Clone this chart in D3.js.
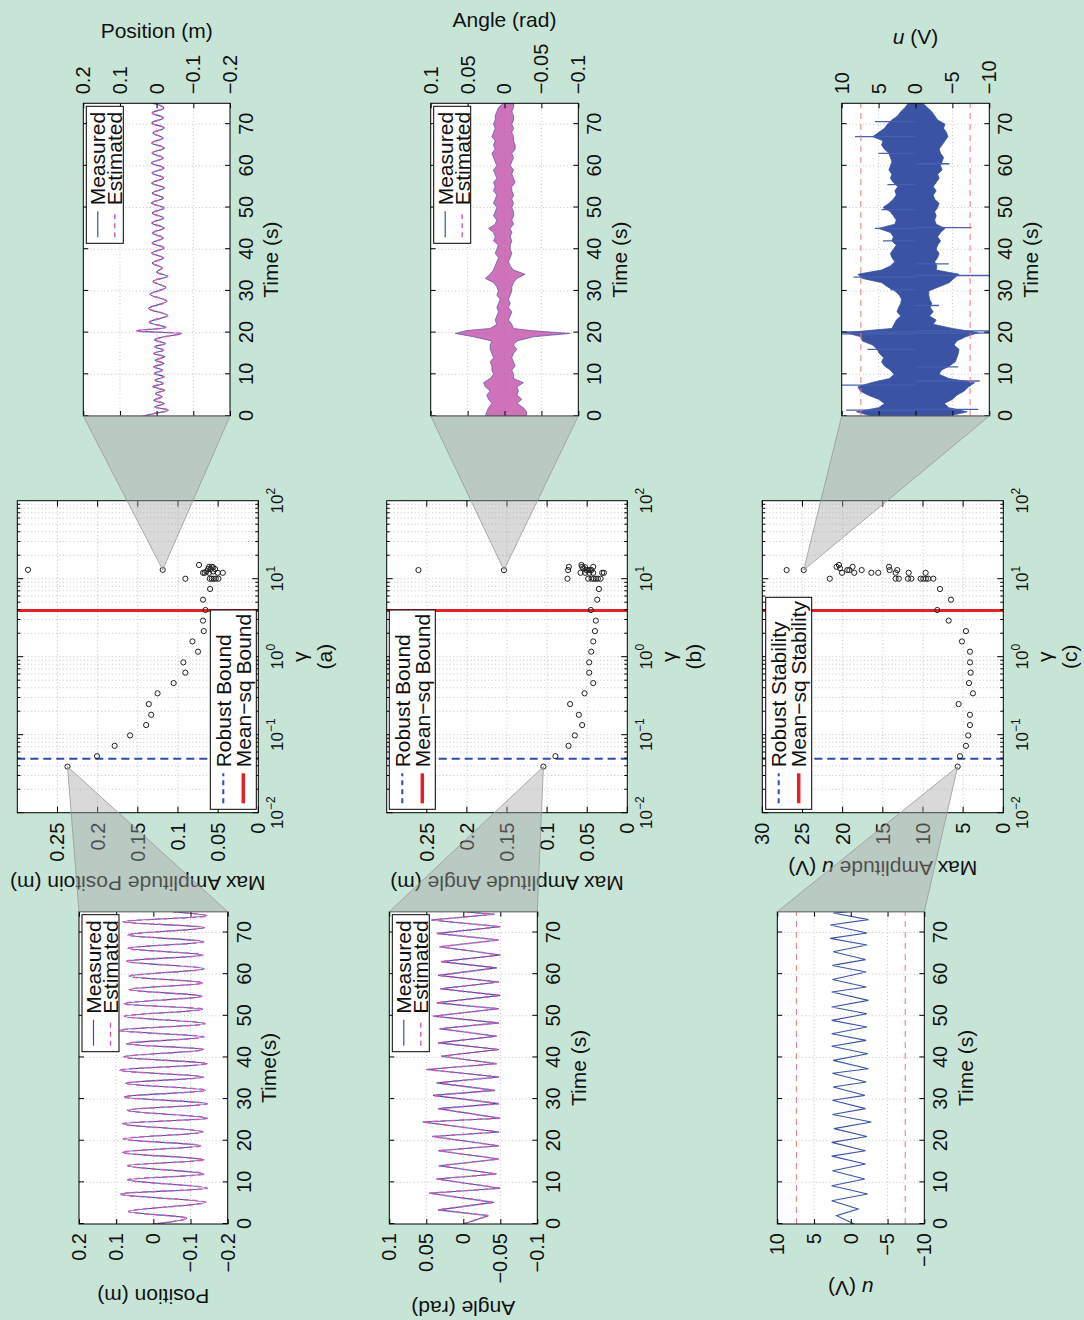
<!DOCTYPE html>
<html><head><meta charset="utf-8">
<script src="https://cdn.jsdelivr.net/npm/d3@7"></script>
<style>
body{margin:0;background:#c7e5d6;}
svg{display:block;}
text{font-family:"Liberation Sans",Arial,Helvetica,sans-serif;fill:#111;}
</style>
</head><body>
<svg id="c" width="1084" height="1320"></svg>
<script>
// ---------------- DATA ----------------
const timeTicks = [0,10,20,30,40,50,60,70];
const posTicks = [-0.2,-0.1,0,0.1,0.2];
const angTicks = [-0.1,-0.05,0,0.05,0.1];
const uTicks = [-10,-5,0,5,10];
const ampTicks = [0,0.05,0.1,0.15,0.2,0.25];
const ampTicksU = [0,5,10,15,20,25,30];
const gammaDecades = [-2,-1,0,1,2];
const robustGamma = 0.049, meanSqGamma = 3.9;
const uLimit = 7.4;

// (a) max amplitude position vs gamma
const gammaA = [0.039,0.053,0.072,0.098,0.133,0.18,0.247,0.339,0.459,0.624,0.846,1.16,1.57,2.13,2.9,3.97,5.38,7.38,
  10,10,10,10,10,10, 11.9,11.9,11.9,11.9,11.9,12.4,12.4,13.0,13.0,13.3,13.3,13.3,14.0,14.2,14.2,15.0];
const ampA = [0.2375,0.2008,0.1788,0.1596,0.1396,0.1333,0.1363,0.1254,0.1054,0.0908,0.0933,0.075,0.082,0.0679,0.0688,0.0658,0.0688,0.060,
  0.0908,0.0604,0.0579,0.0554,0.0529,0.0496, 0.0688,0.0667,0.0613,0.0504,0.0442,0.0646,0.0563,0.2867,0.119,0.0625,0.0592,0.0538,0.0563,0.0613,0.0579,0.0738];
// (b) max amplitude angle vs gamma
const gammaB = [0.039,0.053,0.072,0.098,0.133,0.18,0.247,0.339,0.459,0.624,0.846,1.16,1.57,2.13,2.9,3.97,5.38,7.38,
  10,10,10,10,10,10,10, 11.9,11.9,11.9,11.9,11.9,11.9, 12.9,12.9,12.9,12.9,12.9,12.9,12.9, 13.6,14.0,14.2,14.2,14.2,15.0];
const ampB = [0.1046,0.0896,0.0733,0.0654,0.0563,0.0604,0.0713,0.0533,0.0425,0.0475,0.0475,0.045,0.0425,0.0404,0.0392,0.0454,0.0375,0.0354,
  0.0746,0.0488,0.0446,0.0417,0.0392,0.0367,0.0333, 0.0583,0.0525,0.0475,0.0425,0.0313,0.0292, 0.2604,0.1538,0.0738,0.0508,0.0488,0.0467,0.0446, 0.055,0.0525,0.0729,0.0563,0.0425,0.0571];
// (c) max amplitude u vs gamma
const gammaC = [0.039,0.053,0.072,0.098,0.133,0.18,0.247,0.339,0.459,0.624,0.846,1.16,1.57,2.13,2.9,3.97,5.38,7.38,
  10,10,10,10,10,10,10,10,10,10, 11.9,11.9,11.9,11.9,11.9,11.9,11.9, 12.9,12.9,12.9,12.9,12.9,12.9,12.9, 13.6,14.2,14.2,14.2,15.0];
const ampC = [5.68,5.39,4.65,4.36,4.15,4.15,5.56,3.78,4.27,4.07,4.15,4.15,5.15,4.65,6.8,8.22,6.51,7.88,
  21.6,13.4,13.0,11.87,11.45,10.29,9.96,9.63,9.34,8.71, 20.08,18.55,16.43,15.56,13.4,11.78,9.67, 26.97,24.85,19.42,19.17,17.63,14.15,13.2, 20.33,20.75,18.76,14.23,20.46];
const calloutIdx = {A:[0,32], B:[0,32], C:[0,36]};

// left (unstable gain) time series: position, angle, u  (extrema)
const posLeftT = [0,1.4,3.0,5.2,7.2,8.6,10.6,12.0,14.0,15.4,17.2,18.8,20.4,22.1,24.1,25.4,27.3,28.9,30.5,32.1,33.8,35.3,36.9,38.5,40.1,41.9,43.3,44.9,46.5,48.1,49.9,51.6,52.9,54.7,56.3,57.9,59.5,61.3,63.1,64.6,66.2,67.8,69.4,71.2,72.6,74.0,75];
const posLeftV = [0,-0.090,0.067,-0.141,0.088,-0.145,0.069,-0.136,0.069,-0.136,0.083,-0.127,0.081,-0.133,0.083,-0.145,0.070,-0.145,0.079,-0.141,0.075,-0.135,0.091,-0.145,0.080,-0.135,0.072,-0.136,0.091,-0.139,0.078,-0.133,0.079,-0.130,0.065,-0.133,0.065,-0.136,0.072,-0.133,0.069,-0.135,0.069,-0.137,0.081,-0.145,-0.05];
const angLeftT = [0,2.0,3.4,5.2,7.4,8.6,10.8,12.0,14.0,15.6,17.6,18.8,21.0,22.1,24.5,25.4,27.7,28.9,30.9,32.1,33.9,35.3,37.1,38.5,40.3,41.9,43.5,45.1,46.9,48.3,49.9,51.7,53.1,54.9,56.5,58.1,59.7,61.5,63.0,64.6,66.6,68.2,69.8,71.4,73.0,74.4,75];
const angLeftV = [0,-0.034,0.034,-0.041,0.046,-0.05,0.036,-0.045,0.033,-0.048,0.034,-0.048,0.042,-0.048,0.055,-0.05,0.034,-0.048,0.041,-0.043,0.036,-0.048,0.05,-0.045,0.03,-0.048,0.034,-0.045,0.032,-0.048,0.041,-0.048,0.036,-0.05,0.031,-0.048,0.034,-0.045,0.03,-0.05,0.032,-0.048,0.036,-0.05,0.043,-0.042,0];
const uLeftT = [0,2.0,3.6,5.6,7.2,9.2,10.8,12.8,14.4,16.3,17.6,19.6,21.0,22.9,24.5,26.3,27.7,29.7,30.9,32.9,34.1,36.2,37.3,39.3,40.9,42.7,44.1,45.7,47.3,48.9,50.5,52.1,53.7,55.7,56.9,58.7,60.5,62.1,63.5,65.4,67.0,68.6,69.9,71.8,73.1,74.7,75];
const uLeftV = [-0.5,1.95,-1.0,2.6,-2.3,2.6,-1.9,2.5,-2.0,2.6,-2.0,2.6,-2.2,2.3,-2.8,2.5,-2.0,2.5,-1.9,2.4,-2.1,2.5,-2.4,2.4,-2.3,2.6,-2.1,2.6,-2.2,2.6,-2.2,2.6,-2.4,2.6,-2.1,2.5,-2.1,2.5,-2.0,2.4,-2.2,2.8,-2.2,2.8,-2.4,2.4,0];

// right (stable gain) time series
const posRightT = [0,0.7,1.4,2.2,3.0,3.8,4.6,5.4,6.2,7.0,7.8,8.6,9.4,10.2,11.0,11.8,12.6,13.4,14.2,15.0,15.8,16.6,17.4,18.2,19.0,19.8,20.4,21.2,22.5,24.1,25.8,27.5,29.2,30.8,32.3,33.5,34.5,35.5,36.7,37.9,39.1,40.3,41.5,42.7,43.9,45.1,46.3,47.5,48.7,49.9,51.1,52.3,53.5,54.7,55.9,57.1,58.3,59.5,60.7,61.9,63.1,64.3,65.5,66.7,67.9,69.1,70.3,71.5,72.7,73.9,75];
const posRightV = [0.036,0.0,-0.032,0.005,-0.02,0.008,-0.015,0.003,-0.022,0.01,-0.018,0.004,-0.02,0.006,-0.016,0.008,-0.02,0.004,-0.022,0.008,-0.018,0.005,-0.024,0.006,-0.02,-0.068,0.055,-0.025,0.02,-0.03,0.022,-0.028,0.018,-0.025,0.01,-0.03,0.0,-0.015,0.012,-0.018,0.013,-0.02,0.012,-0.018,0.011,-0.02,0.013,-0.019,0.012,-0.02,0.014,-0.018,0.012,-0.02,0.013,-0.019,0.012,-0.02,0.014,-0.018,0.012,-0.021,0.013,-0.017,0.01,-0.02,0.013,-0.018,0.012,-0.02,0.01];
const angRightT  = [0,1,2,3,4,5,6,7,8,9,10,11,12,13,14,15,16,17,18,19,19.8,20.5,21,22,23,24,25,26,27,28,29,30,31,32,33,34,35,36,37,38,39,40,41,42,43,44,45,46,47,48,49,50,51,52,53,54,55,56,57,58,59,60,61,62,63,64,65,66,67,68,69,70,71,72,73,74,75];
const angRightHi = [0.026,0.024,0.0216,0.0171,0.0216,0.024,0.0194,0.026,0.0284,0.0194,0.0149,0.0171,0.0171,0.0194,0.0149,0.0171,0.0194,0.0194,0.0171,0.042,0.0667,0.051,0.0194,0.0104,0.0126,0.0104,0.0081,0.0104,0.0081,0.0059,0.0104,0.0081,0.0104,0.0149,0.026,0.0194,0.0149,0.0126,0.0104,0.0081,0.0126,0.0104,0.0081,0.0149,0.0126,0.0149,0.0216,0.0126,0.0104,0.0149,0.0126,0.0104,0.0149,0.0126,0.0104,0.0149,0.0126,0.0149,0.0104,0.0126,0.0149,0.0104,0.0126,0.0149,0.0171,0.0126,0.0149,0.0126,0.0171,0.0149,0.0126,0.0149,0.0126,0.0126,0.0104,0.0081,0.0014];
const angRightLo = [-0.03,-0.03,-0.0257,-0.0167,-0.0234,-0.0167,-0.0189,-0.0167,-0.0257,-0.0122,-0.0122,-0.0099,-0.0144,-0.0122,-0.0099,-0.0122,-0.0167,-0.0122,-0.0167,-0.0392,-0.0887,-0.0347,-0.0122,-0.0099,-0.0054,-0.0077,-0.0099,-0.0054,-0.0077,-0.0054,-0.0077,-0.0099,-0.0099,-0.0122,-0.0167,-0.0279,-0.0122,-0.0077,-0.0054,-0.0077,-0.0099,-0.0077,-0.0077,-0.0099,-0.0077,-0.0099,-0.0077,-0.0122,-0.0099,-0.0122,-0.0122,-0.0099,-0.0122,-0.0099,-0.0122,-0.0099,-0.0099,-0.0144,-0.0122,-0.0099,-0.0122,-0.0077,-0.0099,-0.0122,-0.0099,-0.0144,-0.0144,-0.0122,-0.0122,-0.0099,-0.0122,-0.0099,-0.0122,-0.0122,-0.0099,-0.0122,-0.0122];
const uRightT  = [0,1,2,3,4,5,6,7,8,9,10,11,12,13,14,15,16,17,18,19,20,21,22,23,24,25,26,27,28,29,30,31,32,33,34,35,36,37,38,39,40,41,42,43,44,45,46,47,48,49,50,51,52,53,54,55,56,57,58,59,60,61,62,63,64,65,66,67,68,69,70,71,72,73,74,75];
const uRightHi = [6.0,8.0,5.0,4.2,5.0,6.4,7.5,7.8,6.0,3.5,2.9,3.4,4.2,4.6,4.3,4.9,5.2,5.8,7.2,7.4,9.5,3.2,2.9,2.6,2.0,2.5,2.3,2.0,1.9,2.2,2.8,3.8,4.6,7.2,7.8,4.6,3.4,2.8,3.2,3.4,3.0,2.6,3.2,3.0,3.4,5.0,2.8,2.6,3.0,3.4,4.4,3.6,3.0,2.6,2.8,2.4,3.0,3.4,3.2,3.6,3.4,3.2,3.4,3.6,4.2,4.6,4.4,5.8,5.0,4.2,3.8,3.2,2.4,2.0,1.4,1.0];
const uRightLo = [-4.5,-7.0,-4.5,-3.9,-5.0,-5.6,-6.6,-7.2,-8.0,-4.5,-3.2,-3.5,-4.6,-5.4,-5.6,-5.8,-5.9,-5.2,-5.6,-6.8,-8.5,-5.0,-2.4,-2.8,-1.9,-2.4,-2.0,-2.2,-1.9,-1.8,-1.8,-3.2,-4.6,-5.2,-5.9,-2.8,-2.9,-2.6,-3.0,-3.2,-2.8,-3.0,-3.4,-3.0,-3.4,-4.0,-2.8,-2.6,-2.8,-2.6,-3.0,-3.2,-2.6,-2.4,-2.8,-2.4,-2.8,-3.2,-3.0,-3.6,-3.4,-3.6,-3.8,-3.4,-3.2,-3.6,-4.0,-4.4,-4.2,-3.8,-4.0,-3.0,-2.6,-2.2,-1.6,-1.0];
const uSpikeT = [1.4,1.6,7.4,8.4,11.8,16.0,19.7,19.9,20.2,20.4,26.5,30.3,33.3,33.7,36.5,42.0,45.0,45.2,49.5,55.5,60.5,63.0,67.0,70.6];
const uSpikeV = [9.4,-8.5,10,-8.7,-5.8,6.5,10,-10,10,-10,-3.2,3.4,8.4,-10,-4.5,4.4,5.5,-7.6,4.6,3.8,-4.6,5.0,8.2,5.5];

// ---------------- DRAWING ----------------
const fmt = d => (d < 0 ? '\u2212' : '') + String(+Math.abs(d).toFixed(3));
const zip = (a, b, c) => a.map((t, i) => c ? [t, b[i], c[i]] : [t, b[i]]);
const BLUE = '#3a55a6', PINK = '#d35bb5', RED = '#e32228';

const svg = d3.select('#c');
svg.append('rect').attr('width', 1084).attr('height', 1320).attr('fill', '#c7e5d6');
// whole figure is a landscape page rotated a quarter turn
const root = svg.append('g').attr('transform', 'translate(0,1320) rotate(-90)');
let clipN = 0;

function styleAxis(sel, fs) {
  sel.select('.domain').remove();
  sel.selectAll('.tick line').attr('stroke', '#000').attr('stroke-width', 1);
  sel.selectAll('.tick text').attr('font-size', fs).attr('fill', '#111')
     .attr('font-family', '"Liberation Sans",Arial,sans-serif');
}

function grid(g, xs, ys, w, h, xv, yv) {
  g.append('g').selectAll('line').data(xv).join('line')
    .attr('x1', d => xs(d)).attr('x2', d => xs(d)).attr('y1', 0).attr('y2', h)
    .attr('stroke', '#b5b5b5').attr('stroke-width', 0.8).attr('stroke-dasharray', '1,2.5');
  g.append('g').selectAll('line').data(yv).join('line')
    .attr('y1', d => ys(d)).attr('y2', d => ys(d)).attr('x1', 0).attr('x2', w)
    .attr('stroke', '#b5b5b5').attr('stroke-width', 0.8).attr('stroke-dasharray', '1,2.5');
}

function legend(g, x, y, w, h, items, fs, sampleLen) {
  const lg = g.append('g').attr('transform', `translate(${x},${y})`);
  lg.append('rect').attr('width', w).attr('height', h).attr('fill', '#fff').attr('stroke', '#000').attr('stroke-width', 1);
  items.forEach(it => {
    lg.append('line').attr('x1', 6).attr('x2', 6 + sampleLen).attr('y1', it.y).attr('y2', it.y)
      .attr('stroke', it.color).attr('stroke-width', it.sw).attr('stroke-dasharray', it.dash || null);
    lg.append('text').attr('x', 12 + sampleLen).attr('y', it.y).attr('dy', '0.35em')
      .attr('font-size', fs).text(it.label);
  });
}

function timePanel(o) {
  const g = root.append('g').attr('transform', `translate(${o.x},${o.y})`);
  const xs = d3.scaleLinear().domain([0, 75]).range([0, o.w]);
  const ys = d3.scaleLinear().domain(o.yDomain).range([o.h, 0]);
  g.append('rect').attr('width', o.w).attr('height', o.h).attr('fill', '#fff');
  grid(g, xs, ys, o.w, o.h, timeTicks.slice(1), o.yTicks.slice(1, -1));
  const id = 'clip' + (clipN++);
  g.append('clipPath').attr('id', id).append('rect').attr('width', o.w).attr('height', o.h);
  const p = g.append('g').attr('clip-path', `url(#${id})`);
  o.draw(p, xs, ys);
  const b = g.append('g').attr('transform', `translate(0,${o.h})`)
    .call(d3.axisBottom(xs).tickValues(timeTicks).tickSize(-5).tickPadding(9).tickFormat(d => d));
  styleAxis(b, 20);
  const t = g.append('g').call(d3.axisTop(xs).tickValues(timeTicks).tickSize(-5).tickFormat(''));
  styleAxis(t, 20);
  const labeled = o.side === 'left' ? d3.axisLeft(ys) : d3.axisRight(ys);
  const other = o.side === 'left' ? d3.axisRight(ys) : d3.axisLeft(ys);
  const ya = g.append('g').attr('transform', `translate(${o.side === 'left' ? 0 : o.w},0)`)
    .call(labeled.tickValues(o.yTicks).tickSize(-5).tickPadding(9).tickFormat(fmt));
  styleAxis(ya, 20);
  const yb = g.append('g').attr('transform', `translate(${o.side === 'left' ? o.w : 0},0)`)
    .call(other.tickValues(o.yTicks).tickSize(-5).tickFormat(''));
  styleAxis(yb, 20);
  g.append('rect').attr('width', o.w).attr('height', o.h).attr('fill', 'none').attr('stroke', '#000').attr('stroke-width', 1);
  g.append('text').attr('x', o.w / 2).attr('y', o.h + 41).attr('dy', '0.35em').attr('text-anchor', 'middle')
    .attr('font-size', 21).text(o.xlabel);
  const yl = g.append('text').attr('text-anchor', 'middle').attr('dy', '0.35em').attr('font-size', 21)
    .attr('transform', `translate(${o.ylabelX},${o.h / 2}) rotate(${o.side === 'left' ? -90 : 90})`);
  o.ylabel.forEach(s => yl.append('tspan').attr('font-style', s.it ? 'italic' : null).text(s.t));
  if (o.legend) {
    legend(g, o.w - 140, 3, 137, 37, [
      {label: 'Measured', color: BLUE, sw: 1.2, y: 11.5},
      {label: 'Estimated', color: PINK, sw: 1.4, dash: '5,4', y: 28.5}], 21, 26);
  }
  return {g, xs, ys, x: o.x, y: o.y, w: o.w, h: o.h};
}

function midPanel(o) {
  const g = root.append('g').attr('transform', `translate(${o.x},${o.y})`);
  const xs = d3.scaleLog().domain([1e-2, 1e2]).range([0, o.w]);
  const ys = d3.scaleLinear().domain([0, o.ymax]).range([o.h, 0]);
  g.append('rect').attr('width', o.w).attr('height', o.h).attr('fill', '#fff');
  const minor = [];
  gammaDecades.slice(0, -1).forEach(k => { for (let m = 1; m <= 9; m++) minor.push(m * Math.pow(10, k)); });
  const majors = gammaDecades.map(k => Math.pow(10, k));
  grid(g, xs, ys, o.w, o.h, minor.slice(1), o.yTicks.slice(1));
  g.append('line').attr('x1', xs(robustGamma)).attr('x2', xs(robustGamma)).attr('y1', 0).attr('y2', o.h)
    .attr('stroke', '#2d4fa8').attr('stroke-width', 2).attr('stroke-dasharray', '8,5');
  g.append('line').attr('x1', xs(meanSqGamma)).attr('x2', xs(meanSqGamma)).attr('y1', 0).attr('y2', o.h)
    .attr('stroke', RED).attr('stroke-width', 3);
  g.append('g').selectAll('circle').data(o.gam).join('circle')
    .attr('cx', d => xs(d)).attr('cy', (d, i) => ys(o.amp[i])).attr('r', 2.6)
    .attr('fill', 'none').attr('stroke', '#222').attr('stroke-width', 1);
  const tk = g.append('g').attr('stroke', '#000').attr('stroke-width', 1);
  minor.forEach(v => {
    const L = majors.includes(v) ? 6 : 3;
    tk.append('line').attr('x1', xs(v)).attr('x2', xs(v)).attr('y1', o.h).attr('y2', o.h - L);
    tk.append('line').attr('x1', xs(v)).attr('x2', xs(v)).attr('y1', 0).attr('y2', L);
  });
  o.yTicks.forEach(v => {
    tk.append('line').attr('x1', 0).attr('x2', 6).attr('y1', ys(v)).attr('y2', ys(v));
    tk.append('line').attr('x1', o.w).attr('x2', o.w - 6).attr('y1', ys(v)).attr('y2', ys(v));
  });
  gammaDecades.forEach(k => {
    const tx = g.append('text').attr('x', xs(Math.pow(10, k))).attr('y', o.h + 25).attr('text-anchor', 'middle').attr('font-size', 17);
    tx.append('tspan').text('10');
    tx.append('tspan').attr('font-size', 12).attr('dy', -8).text(fmt(k));
  });
  o.yTicks.forEach(v => {
    g.append('text').attr('x', -10).attr('y', ys(v)).attr('dy', '0.35em').attr('text-anchor', 'end')
      .attr('font-size', 20).text(fmt(v));
  });
  const lg = o.legend;
  legend(g, 3.4, lg.y, lg.w, 46, [
    {label: lg.labels[0], color: '#2d4fa8', sw: 2, dash: '5,4', y: 13},
    {label: lg.labels[1], color: RED, sw: 3.5, y: 33}], 21, 30);
  g.append('rect').attr('width', o.w).attr('height', o.h).attr('fill', 'none').attr('stroke', '#000').attr('stroke-width', 1);
  g.append('text').attr('x', o.w / 2).attr('y', o.h + 41).attr('dy', '0.35em').attr('text-anchor', 'middle')
    .attr('font-size', 21).text('\u03b3');
  g.append('text').attr('x', o.w / 2).attr('y', o.h + 66).attr('dy', '0.35em').attr('text-anchor', 'middle')
    .attr('font-size', 21).text(o.tag);
  const yl = g.append('text').attr('text-anchor', 'middle').attr('dy', '0.35em').attr('font-size', 21)
    .attr('transform', `translate(${o.ylabelX},${o.h / 2}) rotate(-90)`);
  o.ylabel.forEach(s => yl.append('tspan').attr('font-style', s.it ? 'italic' : null).text(s.t));
  return {g, xs, ys, x: o.x, y: o.y, w: o.w, h: o.h};
}

function dual(p, xs, ys, T, V, curve) {
  const ln = d3.line().x(d => xs(d[0])).y(d => ys(d[1])).curve(curve);
  const data = zip(T, V);
  p.append('path').datum(data).attr('d', ln).attr('fill', 'none').attr('stroke', BLUE).attr('stroke-width', 1.1);
  p.append('path').datum(data).attr('d', ln).attr('fill', 'none').attr('stroke', PINK).attr('stroke-width', 1.5).attr('stroke-dasharray', '5,4');
}
function band(p, xs, ys, T, Hi, Lo, color, op, edge) {
  const ar = d3.area().x(d => xs(d[0])).y0(d => ys(d[2])).y1(d => ys(d[1]));
  p.append('path').datum(zip(T, Hi, Lo)).attr('d', ar).attr('fill', color).attr('fill-opacity', op)
    .attr('stroke', edge || color).attr('stroke-width', edge ? 0.7 : 0.8);
}
function limits(p, xs, ys) {
  [uLimit, -uLimit].forEach(v => p.append('line').attr('x1', 0).attr('x2', xs(75)).attr('y1', ys(v)).attr('y2', ys(v))
    .attr('stroke', '#ee7777').attr('stroke-width', 1).attr('stroke-dasharray', '6,5'));
}

const XL = 96, WL = 312.3, XM = 507.3, WM = 312, XR = 904, WR = 312.7;

// row (a)
const aL = timePanel({x: XL, y: 79, w: WL, h: 148.7, side: 'left', yDomain: [-0.2, 0.2], yTicks: posTicks,
  xlabel: 'Time(s)', ylabel: [{t: 'Position (m)'}], ylabelX: -72, legend: true,
  draw: (p, xs, ys) => dual(p, xs, ys, posLeftT, posLeftV, d3.curveMonotoneX)});
const aM = midPanel({x: XM, y: 17.3, w: WM, h: 241, ymax: 0.3, yTicks: ampTicks, gam: gammaA, amp: ampA,
  legend: {y: 193, w: 199.3, labels: ['Robust Bound', 'Mean\u2212sq Bound']}, tag: '(a)',
  ylabel: [{t: 'Max Amplitude Positoin (m)'}], ylabelX: -70.8});
const aR = timePanel({x: XR, y: 83.3, w: WR, h: 146.7, side: 'right', yDomain: [-0.2, 0.2], yTicks: posTicks,
  xlabel: 'Time (s)', ylabel: [{t: 'Position (m)'}], ylabelX: WR + 72.3, legend: true,
  draw: (p, xs, ys) => dual(p, xs, ys, posRightT, posRightV, d3.curveMonotoneX)});

// row (b)
const bL = timePanel({x: XL, y: 389.3, w: WL, h: 148, side: 'left', yDomain: [-0.1, 0.1], yTicks: angTicks,
  xlabel: 'Time (s)', ylabel: [{t: 'Angle (rad)'}], ylabelX: -84, legend: true,
  draw: (p, xs, ys) => dual(p, xs, ys, angLeftT, angLeftV, d3.curveLinear)});
const bM = midPanel({x: XM, y: 386.7, w: WM, h: 240.6, ymax: 0.3, yTicks: ampTicks, gam: gammaB, amp: ampB,
  legend: {y: 2.6, w: 199.3, labels: ['Robust Bound', 'Mean\u2212sq Bound']}, tag: '(b)',
  ylabel: [{t: 'Max Amplitude Angle (m)'}], ylabelX: -70.8});
const bR = timePanel({x: XR, y: 430.7, w: WR, h: 147.6, side: 'right', yDomain: [-0.1, 0.1], yTicks: angTicks,
  xlabel: 'Time (s)', ylabel: [{t: 'Angle (rad)'}], ylabelX: WR + 83.3, legend: true,
  draw: (p, xs, ys) => { band(p, xs, ys, angRightT, angRightHi, angRightLo, '#c65aae', 0.85, '#5a4fa8'); }});

// row (c)
const cL = timePanel({x: XL, y: 777.3, w: WL, h: 147, side: 'left', yDomain: [-10, 10], yTicks: uTicks,
  xlabel: 'Time (s)', ylabel: [{t: 'u', it: true}, {t: ' (V)'}], ylabelX: -64, legend: false,
  draw: (p, xs, ys) => {
    limits(p, xs, ys);
    const ln = d3.line().x(d => xs(d[0])).y(d => ys(d[1]));
    p.append('path').datum(zip(uLeftT, uLeftV)).attr('d', ln).attr('fill', 'none').attr('stroke', BLUE).attr('stroke-width', 1.1);
  }});
const cM = midPanel({x: XM, y: 762.3, w: WM, h: 241, ymax: 30, yTicks: ampTicksU, gam: gammaC, amp: ampC,
  legend: {y: 3.4, w: 212, labels: ['Robust Stability', 'Mean\u2212sq Stability']}, tag: '(c)',
  ylabel: [{t: 'Max Amplitude '}, {t: 'u', it: true}, {t: ' (V)'}], ylabelX: -55.8});
const cR = timePanel({x: XR, y: 841.7, w: WR, h: 147.6, side: 'right', yDomain: [-10, 10], yTicks: uTicks,
  xlabel: 'Time (s)', ylabel: [{t: 'u', it: true}, {t: ' (V)'}], ylabelX: WR + 66.3, legend: false,
  draw: (p, xs, ys) => {
    band(p, xs, ys, uRightT, uRightHi, uRightLo, '#3a53a4', 1);
    p.append('g').selectAll('line').data(uSpikeT).join('line')
      .attr('x1', d => xs(d)).attr('x2', d => xs(d)).attr('y1', ys(0)).attr('y2', (d, i) => ys(uSpikeV[i]))
      .attr('stroke', '#4660ae').attr('stroke-width', 1.3);
    limits(p, xs, ys);
  }});

// callout wedges
function wedge(mid, gam, amp, idx, small, edgeX) {
  const px = mid.x + mid.xs(gam[idx]), py = mid.y + mid.ys(amp[idx]);
  root.append('path')
    .attr('d', `M${px},${py}L${edgeX},${small.y}L${edgeX},${small.y + small.h}Z`)
    .attr('fill', 'rgba(165,165,165,0.42)').attr('stroke', '#999').attr('stroke-width', 0.8);
}
[[aM, gammaA, ampA, calloutIdx.A, aL, aR], [bM, gammaB, ampB, calloutIdx.B, bL, bR], [cM, gammaC, ampC, calloutIdx.C, cL, cR]]
  .forEach(([m, G, A, ix, l, r]) => {
    wedge(m, G, A, ix[0], l, l.x + l.w);
    wedge(m, G, A, ix[1], r, r.x);
  });
</script>
</body></html>
